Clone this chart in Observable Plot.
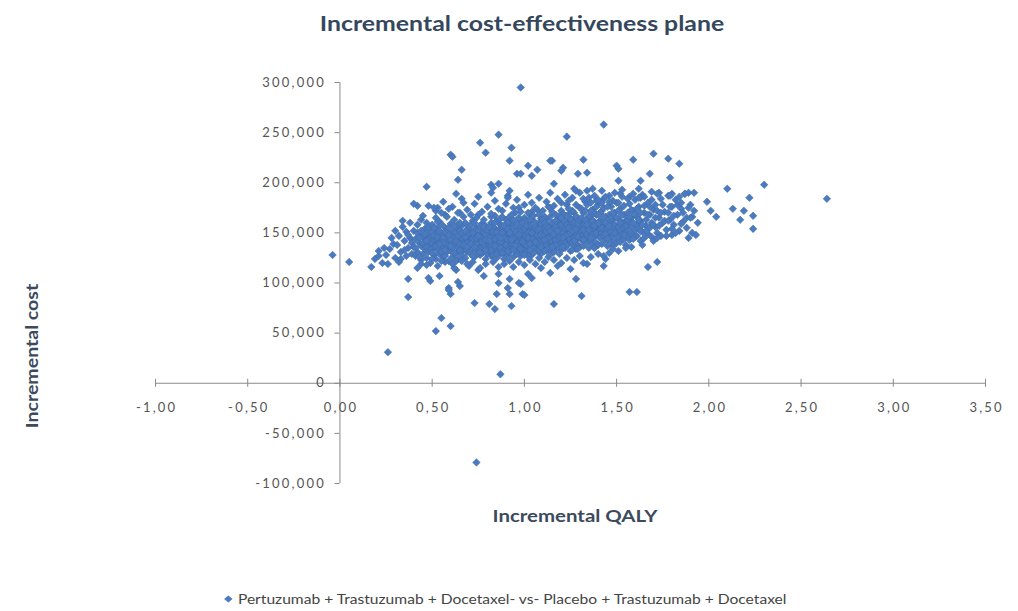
<!DOCTYPE html>
<html>
<head>
<meta charset="utf-8">
<script src="https://cdn.jsdelivr.net/npm/d3@7"></script>
<script src="https://cdn.jsdelivr.net/npm/@observablehq/plot@0.6"></script>
<style>
  body { margin: 0; background: #fff; }
  #chart { position: relative; width: 1018px; height: 611px; overflow: hidden; font-family: Lato, "Open Sans", sans-serif; }
  #title { position: absolute; top: 11px; left: 522px; transform: translateX(-50%) scaleX(1.24); white-space: nowrap;
           font-weight: 700; font-size: 20px; color: #34475d; }
  #plot { position: absolute; left: 0; top: 50px; }
  #plot svg text { letter-spacing: 2.2px; }
  #xlabel { position: absolute; top: 505px; left: 575px; transform: translateX(-50%) scaleX(1.2); white-space: nowrap;
            font-weight: 700; font-size: 17px; color: #3b4a5c; }
  #ylabel { position: absolute; top: 356px; left: 31px; transform: translate(-50%, -50%) rotate(-90deg) scaleX(1.15); white-space: nowrap;
            font-weight: 700; font-size: 17px; color: #3b4a5c; }
  #legend { position: absolute; top: 591px; left: 505px; transform: translateX(-50%) scaleX(1.2); white-space: nowrap;
            font-size: 13px; color: #444; display: flex; align-items: center; gap: 4px; }
</style>
</head>
<body>
<div id="chart">
  <div id="title">Incremental cost-effectiveness plane</div>
  <div id="plot"></div>
  <div id="ylabel">Incremental cost</div>
  <div id="xlabel">Incremental QALY</div>
  <div id="legend">
    <svg width="8" height="8" viewBox="0 0 8 8"><polygon points="4,0.5 7.5,4 4,7.5 0.5,4" fill="#4a7bc0"></polygon></svg>
    <span>Pertuzumab + Trastuzumab + Docetaxel- vs- Placebo + Trastuzumab + Docetaxel</span>
  </div>
</div>
<script>
// Axis ticks
const xTicks = [-1, -0.5, 0, 0.5, 1, 1.5, 2, 2.5, 3, 3.5];
const yTicks = [-100000, -50000, 0, 50000, 100000, 150000, 200000, 250000, 300000];

// Simulation results: [incremental QALY, incremental cost in thousands]
const leftTail = [
  [-0.04,128],[0.05,121],[0.17,116],[0.19,124],[0.21,127],[0.21,132],[0.23,120],[0.26,119],
  [0.27,134],[0.29,139],[0.25,128],[0.28,145],[0.30,152],[0.34,162],[0.24,135],[0.26,31],
  [0.30,125],[0.32,121]
];
const band03 = [
  [0.31,138],[0.32,147],[0.33,131],[0.34,156],[0.35,142],[0.36,127],[0.36,151],[0.37,135],
  [0.38,145],[0.38,160],[0.39,129],[0.39,140],[0.33,124],[0.35,133],[0.37,148]
];
const band04 = [
  [0.40,152],[0.40,136],[0.41,127],[0.41,144],[0.42,158],[0.42,131],[0.43,140],[0.43,149],
  [0.44,123],[0.44,137],[0.44,163],[0.45,146],[0.45,129],[0.46,154],[0.46,141],[0.46,134],
  [0.47,125],[0.47,148],[0.47,160],[0.48,138],[0.48,143],[0.48,131],[0.49,152],[0.49,120],
  [0.49,145],[0.45,167],[0.42,150],[0.41,135]
];
const band05 = [
  [0.50,139],[0.50,147],[0.50,158],[0.51,128],[0.51,143],[0.51,136],[0.52,151],[0.52,165],
  [0.52,124],[0.53,140],[0.53,133],[0.53,155],[0.54,146],[0.54,129],[0.54,161],[0.55,137],
  [0.55,150],[0.55,142],[0.56,126],[0.56,157],[0.56,134],[0.57,145],[0.57,139],[0.57,168],
  [0.58,131],[0.58,149],[0.58,153],[0.59,141],[0.59,122],[0.59,136],[0.60,146],[0.60,159],
  [0.55,170],[0.52,145],[0.57,127],[0.58,143]
];
const band06 = [
  [0.60,132],[0.61,140],[0.61,151],[0.61,126],[0.62,144],[0.62,163],[0.62,137],[0.63,148],
  [0.63,130],[0.63,155],[0.64,141],[0.64,124],[0.64,135],[0.65,152],[0.65,146],[0.65,170],
  [0.66,138],[0.66,128],[0.66,157],[0.67,143],[0.67,133],[0.67,149],[0.68,160],[0.68,139],
  [0.68,125],[0.69,147],[0.69,153],[0.69,131],[0.70,142],[0.70,136],[0.62,150],[0.64,158],
  [0.66,145],[0.68,134],[0.63,122],[0.67,166],[0.69,140],[0.61,146],[0.65,133],[0.70,156]
];
const band07 = [
  [0.71,129],[0.71,145],[0.71,151],[0.72,138],[0.72,162],[0.72,134],[0.73,147],[0.73,141],
  [0.73,126],[0.74,155],[0.74,132],[0.74,149],[0.75,137],[0.75,143],[0.75,168],[0.76,128],
  [0.76,152],[0.76,140],[0.77,146],[0.77,135],[0.77,159],[0.78,131],[0.78,144],[0.78,150],
  [0.79,139],[0.79,124],[0.79,157],[0.80,147],[0.80,136],[0.80,142],[0.72,144],[0.74,139],
  [0.76,146],[0.78,137],[0.71,158],[0.73,153],[0.75,130],[0.77,141],[0.79,148],[0.74,165],
  [0.76,134],[0.78,163],[0.72,127],[0.80,129]
];
const band08 = [
  [0.81,151],[0.81,138],[0.81,133],[0.82,145],[0.82,160],[0.82,127],[0.83,142],[0.83,148],
  [0.83,136],[0.84,154],[0.84,131],[0.84,167],[0.85,140],[0.85,146],[0.85,125],[0.86,153],
  [0.86,137],[0.86,143],[0.87,129],[0.87,158],[0.87,149],[0.88,135],[0.88,144],[0.88,172],
  [0.89,139],[0.89,152],[0.89,130],[0.90,147],[0.90,141],[0.90,163],[0.82,138],[0.84,144],
  [0.86,150],[0.88,139],[0.83,156],[0.85,134],[0.87,141],[0.89,145],[0.81,145],[0.86,131],
  [0.88,157],[0.84,137],[0.82,152],[0.85,162],[0.87,135],[0.89,124],[0.83,128],[0.90,134]
];
const band09 = [
  [0.91,150],[0.91,137],[0.91,128],[0.92,144],[0.92,156],[0.92,140],[0.93,133],[0.93,162],
  [0.93,147],[0.94,138],[0.94,151],[0.94,126],[0.95,145],[0.95,141],[0.95,170],[0.96,135],
  [0.96,153],[0.96,148],[0.97,131],[0.97,143],[0.97,159],[0.98,139],[0.98,146],[0.98,127],
  [0.99,155],[0.99,136],[0.99,149],[1.00,142],[1.00,165],[1.00,133],[0.92,131],[0.94,144],
  [0.96,140],[0.98,152],[0.91,143],[0.93,139],[0.95,152],[0.97,136],[0.99,143],[0.92,166],
  [0.94,158],[0.96,129],[0.98,162],[1.00,148],[0.93,154],[0.95,133],[0.97,175],[0.99,130],
  [0.91,160],[1.00,139]
];
const band10 = [
  [1.01,146],[1.01,153],[1.01,131],[1.02,140],[1.02,160],[1.02,136],[1.03,149],[1.03,144],
  [1.03,168],[1.04,134],[1.04,155],[1.04,128],[1.05,147],[1.05,141],[1.05,162],[1.06,138],
  [1.06,151],[1.06,145],[1.07,132],[1.07,157],[1.07,173],[1.08,143],[1.08,149],[1.08,137],
  [1.09,154],[1.09,129],[1.09,164],[1.10,146],[1.10,140],[1.10,158],[1.02,150],[1.04,145],
  [1.06,133],[1.08,160],[1.01,138],[1.03,139],[1.05,153],[1.07,148],[1.09,141],[1.02,127],
  [1.04,171],[1.06,156],[1.08,133],[1.10,151],[1.03,158],[1.05,135],[1.07,140],[1.09,148],
  [1.01,162],[1.10,134]
];
const band11 = [
  [1.11,148],[1.11,155],[1.11,139],[1.12,144],[1.12,163],[1.12,132],[1.13,150],[1.13,141],
  [1.13,176],[1.14,136],[1.14,158],[1.14,147],[1.15,142],[1.15,153],[1.15,130],[1.16,160],
  [1.16,145],[1.16,138],[1.17,151],[1.17,134],[1.17,168],[1.18,147],[1.18,156],[1.18,141],
  [1.19,137],[1.19,162],[1.19,150],[1.20,144],[1.20,172],[1.20,133],[1.12,151],[1.14,142],
  [1.16,154],[1.18,136],[1.11,166],[1.13,145],[1.15,160],[1.17,143],[1.19,145],[1.12,138],
  [1.14,166],[1.16,131],[1.18,163],[1.20,153],[1.13,135],[1.15,148],[1.17,157],[1.19,129],
  [1.11,132],[1.20,140]
];
const band12 = [
  [1.21,150],[1.21,158],[1.21,141],[1.22,146],[1.22,167],[1.22,135],[1.23,153],[1.23,143],
  [1.23,178],[1.24,139],[1.24,161],[1.24,149],[1.25,144],[1.25,155],[1.25,132],[1.26,163],
  [1.26,147],[1.26,140],[1.27,152],[1.27,137],[1.27,170],[1.28,149],[1.28,158],[1.28,143],
  [1.29,138],[1.29,165],[1.29,153],[1.30,147],[1.30,175],[1.30,136],[1.22,155],[1.24,145],
  [1.26,157],[1.28,134],[1.21,169],[1.23,148],[1.25,164],[1.27,145],[1.29,146],[1.22,140],
  [1.24,182],[1.26,133],[1.28,166],[1.30,156],[1.23,137],[1.25,150]
];
const band13 = [
  [1.31,152],[1.31,160],[1.31,143],[1.32,148],[1.32,170],[1.32,137],[1.33,156],[1.33,145],
  [1.33,181],[1.34,141],[1.34,164],[1.34,151],[1.35,147],[1.35,158],[1.35,135],[1.36,166],
  [1.36,150],[1.36,142],[1.37,155],[1.37,139],[1.37,173],[1.38,153],[1.38,161],[1.38,146],
  [1.39,140],[1.39,168],[1.39,156],[1.40,149],[1.40,178],[1.40,138],[1.32,158],[1.34,147],
  [1.36,159],[1.38,135],[1.31,174],[1.33,150],[1.35,167],[1.37,148],[1.39,150],[1.32,143],
  [1.35,185],[1.38,170]
];
const band14 = [
  [1.41,154],[1.41,162],[1.41,145],[1.42,150],[1.42,172],[1.42,139],[1.43,158],[1.43,147],
  [1.43,184],[1.44,143],[1.44,166],[1.44,153],[1.45,149],[1.45,160],[1.45,137],[1.46,168],
  [1.46,152],[1.46,144],[1.47,157],[1.47,141],[1.47,176],[1.48,155],[1.48,163],[1.48,148],
  [1.49,142],[1.49,170],[1.49,158],[1.50,151],[1.50,180],[1.50,140],[1.42,160],[1.44,149],
  [1.46,161],[1.48,137],[1.43,175],[1.47,151]
];
const band15 = [
  [1.51,156],[1.51,164],[1.51,146],[1.52,152],[1.52,174],[1.52,141],[1.53,160],[1.53,149],
  [1.53,186],[1.54,144],[1.54,168],[1.54,155],[1.55,151],[1.55,162],[1.55,138],[1.56,170],
  [1.56,154],[1.56,146],[1.57,159],[1.57,143],[1.57,179],[1.58,157],[1.58,165],[1.58,150],
  [1.59,148],[1.59,172],[1.60,153],[1.60,183]
];
const band16 = [
  [1.61,158],[1.61,166],[1.61,147],[1.62,154],[1.62,176],[1.63,142],[1.63,162],[1.64,151],
  [1.64,188],[1.65,145],[1.65,170],[1.66,157],[1.66,163],[1.67,149],[1.67,180],[1.68,155],
  [1.68,168],[1.69,146],[1.69,160],[1.70,173]
];
const band17 = [
  [1.71,156],[1.71,178],[1.72,150],[1.73,165],[1.74,184],[1.74,147],[1.75,160],[1.76,171],
  [1.77,153],[1.78,187],[1.79,163],[1.80,148],[1.80,176]
];
const band18 = [
  [1.81,158],[1.82,183],[1.83,168],[1.84,152],[1.85,174],[1.86,161],[1.87,189],[1.88,155],
  [1.90,178],[1.91,166]
];
// second pass through the dense middle of the cloud
const denseLeft = [
  [0.45,140],[0.46,149],[0.47,136],[0.48,155],[0.49,133],[0.50,151],[0.51,147],[0.52,137],
  [0.53,146],[0.54,152],[0.55,131],[0.56,145],[0.57,151],[0.58,138],[0.59,155],[0.60,143],
  [0.61,135],[0.62,157],[0.63,142],[0.64,147],[0.65,139],[0.66,150],[0.67,138],[0.68,146],
  [0.69,136],[0.70,150],[0.47,142],[0.50,130],[0.53,161],[0.56,140],[0.59,148],[0.62,130],
  [0.65,160],[0.68,152],[0.43,145],[0.44,152],[0.51,155],[0.54,139],[0.57,133],[0.60,137]
];
const denseMid = [
  [0.71,139],[0.72,150],[0.73,136],[0.74,145],[0.75,152],[0.76,157],[0.77,130],[0.78,156],
  [0.79,143],[0.80,153],[0.81,142],[0.82,133],[0.83,151],[0.84,160],[0.85,151],[0.86,146],
  [0.87,164],[0.88,150],[0.89,157],[0.90,138],[0.91,154],[0.92,150],[0.93,143],[0.94,163],
  [0.95,137],[0.96,159],[0.97,148],[0.98,134],[0.99,160],[1.00,154],[0.73,160],[0.76,131],
  [0.79,133],[0.82,166],[0.85,129],[0.88,130],[0.91,132],[0.94,133],[0.97,165],[1.00,128],
  [0.75,147],[0.81,156],[0.87,145],[0.93,168],[0.99,141]
];
const denseRight = [
  [1.01,157],[1.02,145],[1.03,163],[1.04,150],[1.05,167],[1.06,141],[1.07,153],[1.08,154],
  [1.09,159],[1.10,163],[1.11,160],[1.12,157],[1.13,155],[1.14,152],[1.15,171],[1.16,149],
  [1.17,162],[1.18,152],[1.19,167],[1.20,158],[1.21,145],[1.22,161],[1.23,158],[1.24,155],
  [1.25,170],[1.26,152],[1.27,160],[1.28,154],[1.29,159],[1.30,163],[1.02,170],[1.05,130],
  [1.08,168],[1.11,143],[1.14,175],[1.17,138],[1.20,165],[1.23,167],[1.26,172],[1.29,134],
  [1.03,133],[1.09,136],[1.15,136],[1.21,136],[1.27,142]
];
const denseUpper = [
  [1.31,165],[1.32,153],[1.33,163],[1.34,158],[1.35,153],[1.36,172],[1.37,162],[1.38,157],
  [1.39,176],[1.40,160],[1.41,170],[1.42,155],[1.43,166],[1.44,160],[1.45,176],[1.46,157],
  [1.47,165],[1.48,170],[1.49,150],[1.50,165],[1.51,172],[1.52,160],[1.53,168],[1.54,177],
  [1.55,157],[1.56,163],[1.57,166],[1.58,173],[1.59,160],[1.60,169],[1.61,174],[1.62,163],
  [1.63,170],[1.64,158],[1.65,177],[1.33,172],[1.36,145],[1.39,182],[1.42,180],[1.45,144],
  [1.48,182],[1.51,180],[1.54,148],[1.57,186],[1.60,146],[1.63,152],[1.34,178],[1.40,168],
  [1.46,187],[1.52,189]
];
const denseTail = [
  [1.66,152],[1.67,168],[1.68,176],[1.69,183],[1.70,158],[1.71,165],[1.72,172],[1.73,157],
  [1.75,178],[1.76,162],[1.77,147],[1.78,170],[1.79,176],[1.81,167],[1.82,150],[1.83,178],
  [1.84,186],[1.86,170],[1.88,165],[1.91,150],[1.92,172],[1.94,160]
];
// looser scatter just above and below the main band
const upperHalo = [
  [0.52,172],[0.56,181],[0.58,166],[0.61,176],[0.64,170],[0.66,184],[0.69,173],[0.71,168],
  [0.73,179],[0.75,186],[0.77,171],[0.80,176],[0.82,169],[0.84,182],[0.86,174],[0.88,166],
  [0.90,179],[0.92,192],[0.94,175],[0.96,183],[0.98,171],[1.00,178],[1.02,188],[1.04,180],
  [1.06,175],[1.08,185],[1.10,172],[1.12,181],[1.14,190],[1.16,177],[1.18,184],[1.20,180],
  [1.22,188],[1.24,174],[1.26,185],[1.28,178],[1.30,190],[1.32,184],[1.34,192],[1.36,180],
  [1.38,187],[1.40,183],[1.42,192],[1.44,186],[1.46,181],[1.49,190],[1.53,193],[1.56,184],
  [1.59,189],[1.62,194],[1.65,186],[1.69,191]
];
const lowerHalo = [
  [0.43,126],[0.47,118],[0.50,124],[0.53,117],[0.57,121],[0.61,119],[0.63,113],[0.66,122],
  [0.70,117],[0.72,121],[0.75,113],[0.79,119],[0.83,121],[0.86,116],[0.89,119],[0.92,122],
  [0.94,116],[0.97,121],[1.00,118],[1.03,123],[1.06,119],[1.08,125],[1.11,121],[1.13,126],
  [1.16,123],[1.20,120],[1.23,125],[1.27,123],[1.30,127],[1.36,126],[1.40,129],[1.46,130],
  [1.51,132],[1.58,136],[1.64,138]
];
const upperPoints = [
  [0.98,295],[1.43,258],[0.86,248],[1.23,246],[0.76,240],[0.93,235],[0.79,230],[0.60,228],
  [0.61,226],[0.92,222],[1.02,217],[1.07,213],[1.15,222],[1.32,223],[1.21,215],[0.66,213],
  [0.47,196],[0.64,203],[0.82,198],[0.83,195],[0.96,209],[1.04,207],[1.29,209],[1.34,210],
  [1.51,214],[1.59,223],[1.70,229],[1.78,224],[1.84,219],[1.68,209],[1.79,205],[1.51,202],
  [1.50,217],[1.63,185],[0.42,177],[0.48,177],[0.53,175],[0.63,189],[0.67,180],[0.86,199],
  [0.91,187],[0.98,209],[1.14,222],[1.20,212],[1.16,199],[1.28,192],[1.73,190],[1.62,185],
  [1.80,189],[1.74,170],[1.78,162],[1.85,180],[1.89,175],[1.90,165],[1.85,159],[1.80,154],
  [0.40,179],[0.51,175],[0.59,174],[0.82,190],[0.91,185],[1.27,194],[1.37,194],[1.63,202],
  [1.72,189],[1.79,187],[1.89,190]
];
const rightTail = [
  [2.10,194],[2.30,198],[2.22,185],[2.64,184],[1.99,181],[2.13,174],[2.19,172],[2.24,167],
  [2.17,163],[2.24,154],[2.04,166],[2.01,172],[1.92,190],[1.87,189],[1.93,148],[1.89,145]
];
const lowerPoints = [
  [0.37,104],[0.37,86],[0.49,102],[0.54,107],[0.59,95],[0.60,89],[0.65,97],[0.55,65],
  [0.52,52],[0.60,57],[0.73,80],[0.78,107],[0.81,79],[0.84,74],[0.85,89],[0.93,77],
  [0.91,95],[0.92,104],[0.98,99],[0.99,89],[1.04,105],[1.16,79],[1.28,104],[1.31,87],
  [0.86,109],[0.76,115],[0.69,119],[0.62,115],[0.55,122],[0.44,119],[0.42,115],[0.48,105],
  [1.09,115],[1.14,110],[1.18,117],[1.25,114],[1.34,119],[1.02,109],[1.44,124],[1.43,117],
  [1.57,91],[1.61,91],[1.67,116],[1.72,121],[1.32,120],[1.38,135],[1.43,127],[0.87,9],
  [0.74,-79],[0.86,100],[0.97,100],[1.00,88],[0.92,89],[0.59,93],[0.64,101],[1.55,135],
  [1.48,134],[1.59,144],[1.70,142],[1.72,145]
];

const groups = [leftTail, band03, band04, band05, band06, band07, band08, band09, band10,
  band11, band12, band13, band14, band15, band16, band17, band18,
  denseLeft, denseMid, denseRight, denseUpper, denseTail, upperHalo, lowerHalo,
  upperPoints, rightTail, lowerPoints];
const points = groups.flat().map(([qaly, costK]) => ({qaly, cost: costK * 1000}));

const axisColor = "#8a8a8a";
const tickFont = {fontSize: 13, fill: "#555", fontFamily: "Lato, 'Open Sans', sans-serif"};
const fmtX = d => d.toFixed(2).replace(".", ",");
const fmtY = d => (d < 0 ? "-" : "") + d3.format(",")(Math.abs(d));

const chart = Plot.plot({
  width: 1018,
  height: 520,
  marginLeft: 155,
  marginRight: 33,
  marginTop: 32,
  marginBottom: 87,
  x: {domain: [xTicks[0], xTicks[xTicks.length - 1]], range: [155, 985], axis: null},
  y: {domain: [yTicks[0], yTicks[yTicks.length - 1]], range: [433, 32], axis: null},
  style: {background: "transparent", overflow: "visible"},
  marks: [
    // axes crossing at the origin
    Plot.ruleX([0], {y1: yTicks[0], y2: yTicks[yTicks.length - 1], stroke: axisColor}),
    Plot.ruleY([0], {x1: xTicks[0], x2: xTicks[xTicks.length - 1], stroke: axisColor}),
    Plot.ruleY(yTicks, {y: d => d, x1: 0, x2: 0, insetLeft: -5, stroke: axisColor}),
    Plot.ruleX(xTicks, {x: d => d, y1: 0, y2: 0, insetTop: -4, insetBottom: -4, stroke: axisColor}),
    Plot.text(yTicks, {x: 0, y: d => d, text: fmtY, textAnchor: "end", dx: -14, ...tickFont}),
    Plot.text(xTicks, {x: d => d, y: 0, text: fmtX, dy: 25, dx: 1.1, ...tickFont}),
    Plot.dot(points, {x: "qaly", y: "cost", symbol: "diamond2", r: 3.4,
      fill: "#4a7bc0", stroke: "#3f67a3", strokeWidth: 0.5})
  ]
});
document.getElementById("plot").appendChild(chart);
</script>
</body>
</html>
